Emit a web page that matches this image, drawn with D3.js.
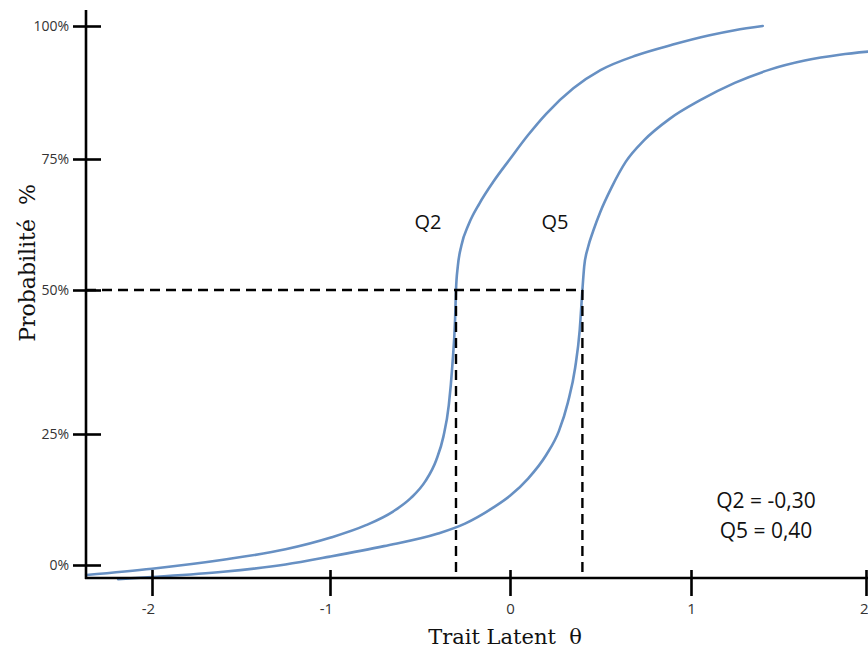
<!DOCTYPE html>
<html>
<head>
<meta charset="utf-8">
<script src="https://cdn.jsdelivr.net/npm/d3@7"></script>
<style>
  html, body { margin: 0; padding: 0; background: #fff; }
  svg { display: block; }
</style>
</head>
<body>
<svg id="chart" width="868" height="648"></svg>
<script>
// Axis ticks
const thetaTicks = [-2, -1, 0, 1, 2];
const probTicks = [0, 25, 50, 75, 100];

// Item characteristic curves: latent trait θ and probability (%)
const q2Theta = [-2.37, -2.0, -1.6, -1.25, -1.0, -0.8, -0.65, -0.55, -0.47, -0.41, -0.37, -0.34, -0.32, -0.305, -0.30, -0.29, -0.27, -0.23, -0.17, -0.09, 0.0, 0.1, 0.2, 0.35, 0.5, 0.7, 0.9, 1.1, 1.25, 1.41];
const q2Prob  = [-1.9, -0.7, 1.0, 3.0, 5.2, 7.6, 10.2, 12.8, 16.0, 20.0, 24.5, 30, 37, 45, 50, 54.5, 58.5, 62.5, 66.5, 70.8, 75.0, 79.5, 83.5, 88.3, 91.7, 94.5, 96.5, 98.2, 99.2, 100];

const q5Theta = [-2.19, -2.0, -1.6, -1.25, -1.0, -0.7, -0.4, -0.25, -0.1, 0.0, 0.1, 0.2, 0.27, 0.32, 0.36, 0.385, 0.40, 0.41, 0.43, 0.46, 0.50, 0.56, 0.64, 0.74, 0.88, 1.05, 1.25, 1.45, 1.65, 1.85, 2.02];
const q5Prob  = [-2.7, -2.3, -1.3, 0.1, 1.6, 3.6, 6.0, 7.9, 10.8, 13.2, 16.5, 21.0, 25.5, 30.5, 36.5, 43, 50, 54.5, 58.0, 61.3, 65.0, 69.5, 74.5, 78.5, 82.5, 86.0, 89.3, 91.8, 93.5, 94.6, 95.2];

// Item thresholds (θ where probability reaches 50%)
const itemNames = ["Q2", "Q5"];
const itemThresholds = [-0.30, 0.40];
const thresholdProb = 50;

const svg = d3.select("#chart");
const W = 868;

const axisX0 = 86;   // position of vertical axis
const axisY0 = 578;  // position of horizontal axis

const x = d3.scaleLinear().domain(thetaTicks).range([152, 330, 510, 691, 866]);
const y = d3.scaleLinear().domain(probTicks).range([565, 434, 290, 159, 26]);

const curveColor = "#6790c3";
const sansFont = "'Open Sans', 'Noto Sans', sans-serif";
const serifFont = "'DejaVu Serif', 'Liberation Serif', serif";

// Curves
const line = d3.line()
  .x(d => x(d[0]))
  .y(d => y(d[1]))
  .curve(d3.curveMonotoneX);

const curves = [
  d3.zip(q2Theta, q2Prob),
  d3.zip(q5Theta, q5Prob)
];

svg.append("g")
  .selectAll("path")
  .data(curves)
  .join("path")
  .attr("d", line)
  .attr("fill", "none")
  .attr("stroke", curveColor)
  .attr("stroke-width", 2.6)
  .attr("stroke-linecap", "round");

// Threshold guides (dashed)
const guides = svg.append("g")
  .attr("stroke", "#000")
  .attr("stroke-width", 2.4)
  .attr("stroke-dasharray", "10,6")
  .attr("fill", "none");

guides.append("line")
  .attr("x1", axisX0)
  .attr("x2", x(d3.max(itemThresholds)))
  .attr("y1", y(thresholdProb))
  .attr("y2", y(thresholdProb));

guides.selectAll("line.v")
  .data(itemThresholds)
  .join("line")
  .attr("class", "v")
  .attr("x1", d => x(d))
  .attr("x2", d => x(d))
  .attr("y1", y(thresholdProb))
  .attr("y2", axisY0);

// Axes
const yAxis = d3.axisLeft(y)
  .tickValues(probTicks)
  .tickFormat(d => d + "%")
  .tickSizeInner(13)
  .tickSizeOuter(0)
  .tickPadding(4);

const gy = svg.append("g")
  .attr("transform", `translate(${axisX0},0)`)
  .call(yAxis);
gy.select(".domain").remove();
gy.selectAll(".tick line")
  .attr("x1", 15)
  .attr("stroke", "#000")
  .attr("stroke-width", 2.6);
gy.selectAll(".tick text")
  .attr("font-family", sansFont)
  .attr("font-size", 14)
  .attr("fill", "#333");

const xAxis = d3.axisBottom(x)
  .tickValues(thetaTicks)
  .tickFormat(d => d < 0 ? "-" + Math.abs(d) : String(d))
  .tickSizeInner(18)
  .tickSizeOuter(0)
  .tickPadding(7);

const gx = svg.append("g")
  .attr("transform", `translate(0,${axisY0})`)
  .call(xAxis);
gx.select(".domain").remove();
gx.selectAll(".tick line")
  .attr("y1", -8)
  .attr("stroke", "#000")
  .attr("stroke-width", 2.6);
gx.selectAll(".tick text")
  .attr("font-family", sansFont)
  .attr("font-size", 15)
  .attr("fill", "#333")
  .attr("dx", d => d < 0 ? -4 : 0);
// keep the last label inside the frame
gx.selectAll(".tick text")
  .filter(d => x(d) + 5 > W)
  .attr("text-anchor", "end")
  .attr("dx", d => W - x(d));

// Axis lines
svg.append("line")
  .attr("x1", axisX0).attr("x2", axisX0)
  .attr("y1", 10).attr("y2", axisY0 + 1)
  .attr("stroke", "#000").attr("stroke-width", 2.6);
svg.append("line")
  .attr("x1", axisX0 - 1).attr("x2", W)
  .attr("y1", axisY0).attr("y2", axisY0)
  .attr("stroke", "#000").attr("stroke-width", 2.6);

// Curve labels
const labelPos = [[428, 229], [555, 229]];
svg.append("g")
  .selectAll("text")
  .data(itemNames)
  .join("text")
  .attr("x", (d, i) => labelPos[i][0])
  .attr("y", (d, i) => labelPos[i][1])
  .attr("text-anchor", "middle")
  .attr("font-family", sansFont)
  .attr("font-size", 20)
  .attr("fill", "#111")
  .text(d => d);

// Threshold summary
const fmt = v => d3.format(".2f")(v).replace(".", ",").replace("−", "-");
svg.append("g")
  .selectAll("text")
  .data(itemNames)
  .join("text")
  .attr("x", 766)
  .attr("y", (d, i) => 508 + i * 30)
  .attr("text-anchor", "middle")
  .attr("font-family", sansFont)
  .attr("font-size", 21)
  .attr("fill", "#111")
  .text((d, i) => `${d} = ${fmt(itemThresholds[i])}`);

// Axis titles
svg.append("text")
  .attr("x", 505)
  .attr("y", 644)
  .attr("text-anchor", "middle")
  .attr("font-family", serifFont)
  .attr("font-size", 21)
  .attr("fill", "#111")
  .text("Trait Latent\u00a0\u00a0θ");

svg.append("text")
  .attr("transform", "translate(35,263) rotate(-90)")
  .attr("text-anchor", "middle")
  .attr("font-family", serifFont)
  .attr("font-size", 22)
  .attr("fill", "#111")
  .text("Probabilité\u00a0\u00a0%");
</script>
</body>
</html>
